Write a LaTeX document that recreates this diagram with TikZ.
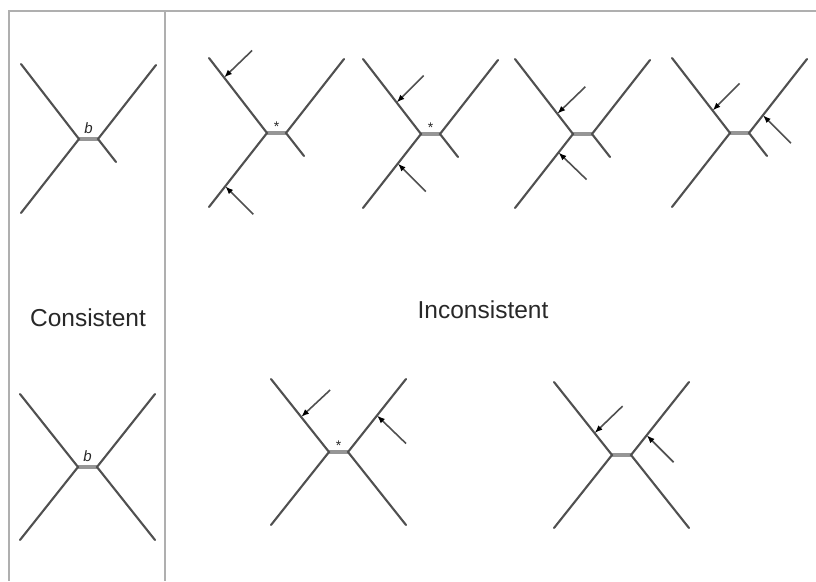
\documentclass[tikz,border=0pt]{standalone}
\usepackage{fontspec}
\setmainfont{Liberation Sans}
\usepackage{tikz}
\usetikzlibrary{arrows.meta,positioning,calc}
\definecolor{BranchGray}{RGB}{80,80,80}
\definecolor{BarGray}{RGB}{150,150,150}
\definecolor{FrameGray}{RGB}{175,175,175}
\definecolor{TextGray}{RGB}{40,40,40}

\begin{document}
\begin{tikzpicture}[x=1pt,y=-1pt,>=Latex,
    branch/.style={BranchGray,line width=2.1pt,line cap=round},
    bar/.style={BarGray,line width=3.6pt},
    frame/.style={FrameGray,line width=1.4pt},
    arr/.style={BranchGray,line width=1.6pt,-{Latex[length=8pt,width=6pt,black]}},
    lbl/.style={TextGray,font=\fontsize{24.5}{28}\selectfont},
    barlbl/.style={TextGray,inner sep=0pt,font=\fontsize{14}{14}\selectfont}]
  \useasboundingbox (0,0) rectangle (816,581);
  % frame
  \draw[frame] (816,11) -- (9,11) -- (9,581);
  \draw[frame] (165,11) -- (165,581);
  % trees with a short stub
  \foreach \n/\x/\y in {a/79/139, b/267/133, c/421/134, d/573/134, e/730/133} {
    \coordinate (L\n) at (\x,\y);
    \coordinate (R\n) at (\x+19,\y);
    \coordinate (ul\n) at (\x-58,\y-75);
    \coordinate (ll\n) at (\x-58,\y+74);
    \coordinate (ur\n) at (\x+77,\y-74);
    \coordinate (lr\n) at (\x+37,\y+23);
    \draw[bar] (L\n) -- (R\n);
    \draw[branch] (ul\n) -- (L\n) -- (ll\n);
    \draw[branch] (ur\n) -- (R\n) -- (lr\n);
  }
  % trees with four full branches
  \foreach \n/\x/\y in {f/78/467, g/329/452, h/612/455} {
    \coordinate (L\n) at (\x,\y);
    \coordinate (R\n) at (\x+19,\y);
    \coordinate (ul\n) at (\x-58,\y-73);
    \coordinate (ll\n) at (\x-58,\y+73);
    \coordinate (ur\n) at (\x+77,\y-73);
    \coordinate (lr\n) at (\x+77,\y+73);
    \draw[bar] (L\n) -- (R\n);
    \draw[branch] (ul\n) -- (L\n) -- (ll\n);
    \draw[branch] (ur\n) -- (R\n) -- (lr\n);
  }
  % labels on the bars
  \node[barlbl,font=\fontsize{15}{16}\selectfont\itshape] (ba) at ($(La)!0.5!(Ra)+(0,-11)$) {b};
  \node[barlbl,font=\fontsize{15}{16}\selectfont\itshape] (bf) at ($(Lf)!0.5!(Rf)+(0,-11)$) {b};
  \node[barlbl] (sb) at ($(Lb)!0.5!(Rb)+(0,-6)$) {*};
  \node[barlbl] (sc) at ($(Lc)!0.5!(Rc)+(0,-6)$) {*};
  \node[barlbl] (sg) at ($(Lg)!0.5!(Rg)+(0,-6)$) {*};
  % arrows
  \foreach \t/\p/\q/\f/\dx/\dy in {
      b1/Lb/ulb/0.74/28/-27, b2/Lb/llb/0.72/28/28,
      c1/Lc/ulc/0.42/27/-27, c2/Lc/llc/0.40/28/28,
      d1/Ld/uld/0.27/28/-27, d2/Ld/lld/0.25/28/27,
      e1/Le/ule/0.30/27/-27, e2/Re/ure/0.24/28/28,
      g1/Lg/ulg/0.48/29/-27, g2/Rg/urg/0.50/29/28,
      h1/Lh/ulh/0.30/28/-27, h2/Rh/urh/0.27/27/27} {
    \coordinate (t\t) at ($(\p)!\f!(\q)$);
    \coordinate (s\t) at ($(t\t)+(\dx,\dy)$);
    \draw[arr] (s\t) -- (t\t);
  }
  % captions
  \node[lbl] (cons) at (88,318) {Consistent};
  \node[lbl] (incons) at (483,310) {Inconsistent};
\end{tikzpicture}
\end{document}
